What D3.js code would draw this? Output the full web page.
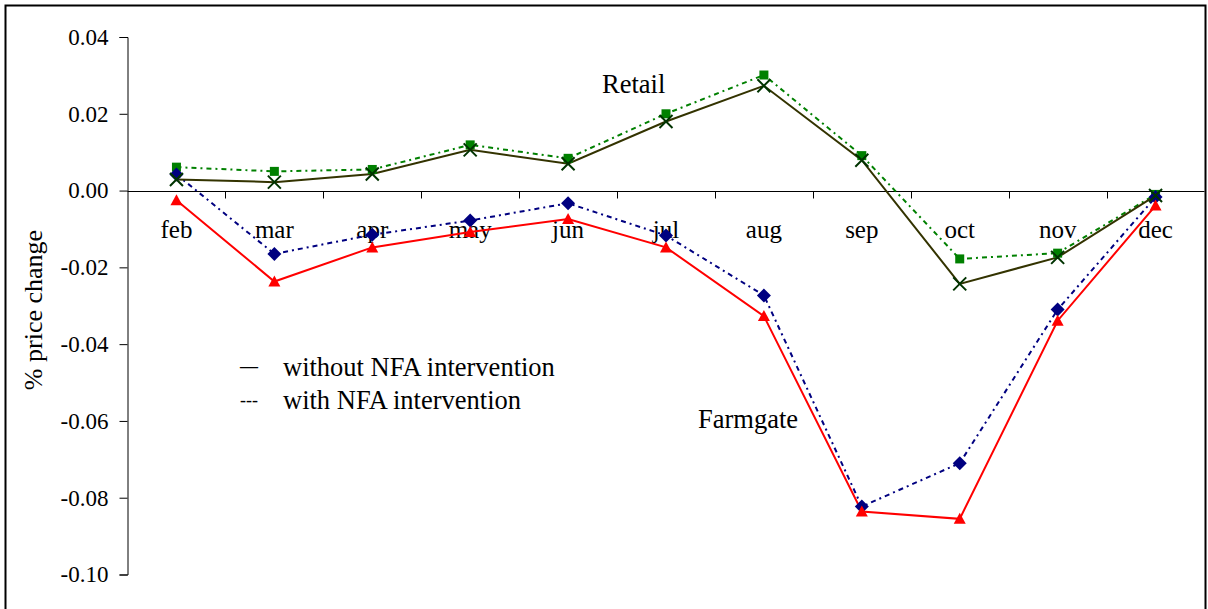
<!DOCTYPE html>
<html>
<head>
<meta charset="utf-8">
<script src="https://cdn.jsdelivr.net/npm/d3@7"></script>
<style>
  html, body { margin: 0; padding: 0; background: #fff; }
  svg { display: block; }
  text { font-family: "Liberation Serif", "Times New Roman", serif; fill: #000; }
</style>
</head>
<body>
<svg id="chart" width="1208" height="609"></svg>
<script>
// Monthly % price change, rice: retail vs farmgate, with / without NFA intervention
const months = ["feb", "mar", "apr", "may", "jun", "jul", "aug", "sep", "oct", "nov", "dec"];
const yTicks = [0.04, 0.02, 0.00, -0.02, -0.04, -0.06, -0.08, -0.10];

const retailWithout   = [0.0029, 0.0022, 0.0043, 0.0106, 0.0070, 0.0180, 0.0273, 0.0079, -0.0243, -0.0174, -0.0013];
const retailWith      = [0.0061, 0.0050, 0.0055, 0.0119, 0.0084, 0.0200, 0.0301, 0.0091, -0.0178, -0.0163, -0.0010];
const farmgateWithout = [-0.0025, -0.0237, -0.0148, -0.0108, -0.0074, -0.0148, -0.0327, -0.0836, -0.0855, -0.0339, -0.0039];
const farmgateWith    = [0.0042, -0.0165, -0.0115, -0.0078, -0.0033, -0.0117, -0.0273, -0.0823, -0.0710, -0.0310, -0.0017];

const svg = d3.select("#chart");

// outer frame
svg.append("rect")
  .attr("x", 5.5).attr("y", 5.5)
  .attr("width", 1200).attr("height", 620)
  .attr("fill", "none").attr("stroke", "#000").attr("stroke-width", 2);

const plotLeft = 127.5, plotRight = 1204.5, plotTop = 37, plotBottom = 574.5;

const x = d3.scaleBand().domain(months).range([plotLeft, plotRight]).padding(0);
const cx = m => x(m) + x.bandwidth() / 2;
const y = d3.scaleLinear().domain([-0.10, 0.04]).range([plotBottom, plotTop]);

// y axis
const fmt = v => d3.format(".2f")(v).replace("\u2212", "-");
const yAxis = d3.axisLeft(y).tickValues(yTicks).tickFormat(fmt).tickSize(8).tickPadding(11);
const gy = svg.append("g").attr("transform", `translate(${plotLeft},0)`).call(yAxis);
gy.attr("font-family", "Liberation Serif, Times New Roman, serif").attr("font-size", 23);
gy.select(".domain").attr("stroke", "#000").attr("stroke-width", 1);
gy.selectAll(".tick line").attr("stroke", "#000");
gy.selectAll(".tick text")
  .attr("font-family", "Liberation Serif, Times New Roman, serif")
  .attr("font-size", 23).attr("fill", "#000");

// zero axis with ticks at category boundaries
const y0 = Math.round(y(0)) + 0.5;
svg.append("line")
  .attr("x1", plotLeft).attr("x2", plotRight)
  .attr("y1", y0).attr("y2", y0)
  .attr("stroke", "#000").attr("stroke-width", 1);
svg.append("g").selectAll("line")
  .data(months)
  .join("line")
  .attr("x1", d => Math.round(x(d) + x.bandwidth()) + 0.5)
  .attr("x2", d => Math.round(x(d) + x.bandwidth()) + 0.5)
  .attr("y1", y0).attr("y2", y0 + 7)
  .attr("stroke", "#000");

// month labels
svg.append("g").selectAll("text")
  .data(months)
  .join("text")
  .attr("x", d => cx(d))
  .attr("y", 238)
  .attr("text-anchor", "middle")
  .style("font-size", "25px")
  .text(d => d);

// y axis title
svg.append("text")
  .attr("transform", "translate(42,310) rotate(-90)")
  .attr("text-anchor", "middle")
  .style("font-size", "26px")
  .text("% price change");

const line = d3.line().x((d, i) => cx(months[i])).y(d => y(d));

const series = [
  { values: retailWith,      color: "#008000", dash: "5,4,2,4", marker: "square",   mcolor: "#008000" },
  { values: farmgateWith,    color: "#000080", dash: "5,4,2,4", marker: "diamond",  mcolor: "#000080" },
  { values: farmgateWithout, color: "#FF0000", dash: null,      marker: "triangle", mcolor: "#FF0000" },
  { values: retailWithout,   color: "#333300", dash: null,      marker: "cross",    mcolor: "#003300" }
];

series.forEach(s => {
  svg.append("path")
    .datum(s.values)
    .attr("d", line)
    .attr("fill", "none")
    .attr("stroke", s.color)
    .attr("stroke-width", 2)
    .attr("stroke-dasharray", s.dash);
});

series.forEach(s => {
  const g = svg.append("g");
  s.values.forEach((v, i) => {
    const px = cx(months[i]), py = y(v);
    if (s.marker === "square") {
      g.append("rect").attr("x", px - 4.5).attr("y", py - 4.5).attr("width", 9).attr("height", 9).attr("fill", s.mcolor);
    } else if (s.marker === "diamond") {
      g.append("path").attr("d", `M${px},${py - 7}L${px + 7},${py}L${px},${py + 7}L${px - 7},${py}Z`).attr("fill", s.mcolor);
    } else if (s.marker === "triangle") {
      g.append("path").attr("d", `M${px},${py - 6}L${px + 6},${py + 5}L${px - 6},${py + 5}Z`).attr("fill", s.mcolor);
    } else {
      g.append("path").attr("d", `M${px - 6.5},${py - 6.5}L${px + 6.5},${py + 6.5}M${px - 6.5},${py + 6.5}L${px + 6.5},${py - 6.5}`)
        .attr("stroke", s.mcolor).attr("stroke-width", 2).attr("fill", "none");
    }
  });
});

// annotations
svg.append("text").attr("x", 602).attr("y", 93).style("font-size", "26.5px").text("Retail");
svg.append("text").attr("x", 698).attr("y", 428).style("font-size", "26.5px").text("Farmgate");

// legend
svg.append("text").attr("x", 240).attr("y", 372).style("font-size", "18px").style("font-weight", "bold").text("\u2014");
svg.append("text").attr("x", 283).attr("y", 376).style("font-size", "26.5px").text("without NFA intervention");
svg.append("text").attr("x", 240).attr("y", 406).style("font-size", "18px").text("---");
svg.append("text").attr("x", 283).attr("y", 409).style("font-size", "26.5px").text("with NFA intervention");
</script>
</body>
</html>
